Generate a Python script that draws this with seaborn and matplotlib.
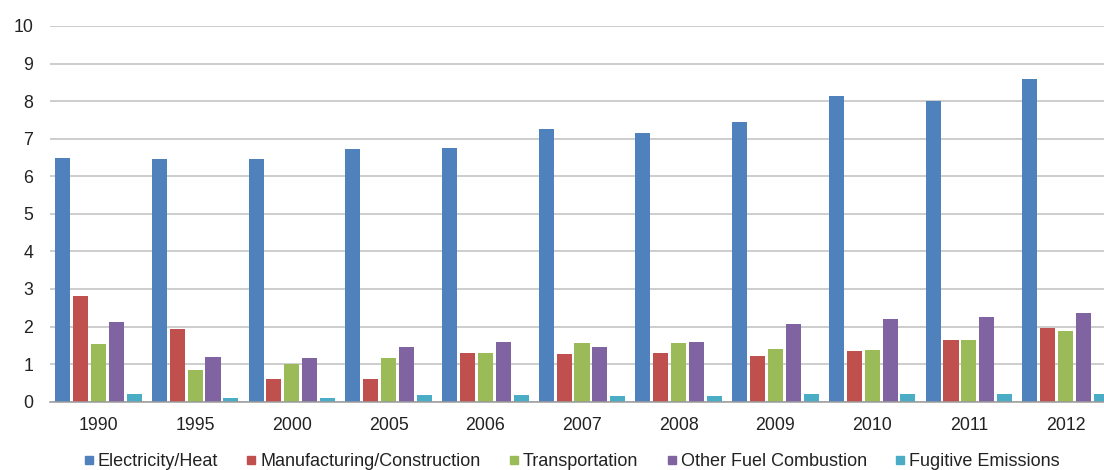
import matplotlib
matplotlib.use("Agg")
import matplotlib.pyplot as plt
from matplotlib.lines import Line2D
import numpy as np
import pandas as pd
import seaborn as sns

# CO2 emissions by sector (values per year)
years = ["1990", "1995", "2000", "2005", "2006", "2007", "2008", "2009", "2010", "2011", "2012"]
sectors = ["Electricity/Heat", "Manufacturing/Construction", "Transportation",
           "Other Fuel Combustion", "Fugitive Emissions"]
electricity_heat = [6.49, 6.46, 6.46, 6.72, 6.74, 7.26, 7.15, 7.44, 8.14, 8.00, 8.58]
manufacturing_construction = [2.81, 1.93, 0.61, 0.60, 1.30, 1.26, 1.30, 1.22, 1.34, 1.63, 1.95]
transportation = [1.53, 0.84, 1.00, 1.16, 1.30, 1.55, 1.55, 1.41, 1.38, 1.63, 1.89]
other_fuel_combustion = [2.11, 1.20, 1.16, 1.45, 1.59, 1.45, 1.59, 2.06, 2.21, 2.25, 2.35]
fugitive_emissions = [0.20, 0.09, 0.09, 0.17, 0.17, 0.16, 0.16, 0.20, 0.20, 0.20, 0.20]
y_ticks = [0, 1, 2, 3, 4, 5, 6, 7, 8, 9, 10]

colors = ["#4F81BD", "#C0504D", "#9BBB59", "#8064A2", "#4BACC6"]

series = [electricity_heat, manufacturing_construction, transportation,
          other_fuel_combustion, fugitive_emissions]
df = pd.DataFrame({
    "Year": np.tile(years, len(sectors)),
    "Sector": np.repeat(sectors, len(years)),
    "Value": np.concatenate(series),
})

sns.set_theme(style="white")
plt.rcParams["font.family"] = ["Liberation Sans", "DejaVu Sans"]

W, H = 1104, 470
fig = plt.figure(figsize=(W / 100, H / 100), dpi=100)
ax = fig.add_axes([50 / W, 68.3 / H, 1064 / W, 375.7 / H])

sns.barplot(data=df, x="Year", y="Value", hue="Sector", order=years,
            hue_order=sectors, palette=colors, saturation=1, width=0.925,
            gap=0.16, legend=False, ax=ax, linewidth=0)

ax.set_ylim(0, 10)
ax.set_yticks(y_ticks)
ax.set_xlim(-0.5, len(years) - 0.5)
ax.yaxis.grid(True, color="#C0C0C0", linewidth=1.1)
ax.set_axisbelow(True)
for side in ["top", "right", "left"]:
    ax.spines[side].set_visible(False)
ax.spines["bottom"].set_color("#9A9A9A")
ax.spines["bottom"].set_linewidth(1.1)
ax.set_xlabel("")
ax.set_ylabel("")
ax.tick_params(axis="y", length=0, pad=12, labelsize=12.8, labelcolor="#222222")
ax.tick_params(axis="x", length=0, pad=11, labelsize=12.8, labelcolor="#222222")

handles = [Line2D([], [], marker="s", linestyle="none", markersize=6,
                  markerfacecolor=c, markeredgecolor=c) for c in colors]
fig.legend(handles, sectors, loc="center", bbox_to_anchor=(572 / W, 8 / H),
           ncol=5, frameon=False, fontsize=13, handlelength=0.5,
           handletextpad=0.25, columnspacing=1.6, labelcolor="#222222",
           borderaxespad=0, borderpad=0)

fig.savefig("out.png", dpi=100)
